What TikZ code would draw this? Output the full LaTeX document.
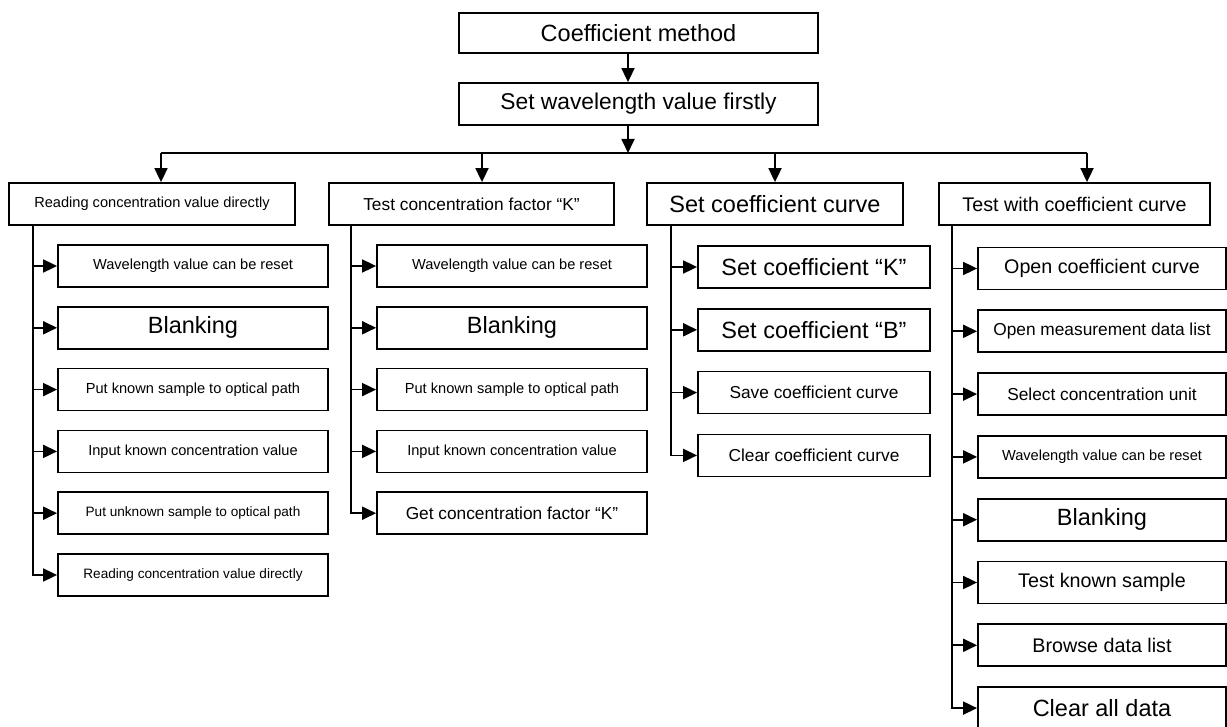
\documentclass[tikz,border=0pt]{standalone}
\usepackage{fontspec}
\setmainfont{Liberation Sans}
\usetikzlibrary{positioning,arrows.meta}

\begin{document}
\begin{tikzpicture}[x=1pt, y=-1pt, line width=1.8pt, >={Triangle[length=14pt,width=13pt]},
    box/.style={draw, inner sep=0pt, minimum height=42pt},
    fxl/.style={font=\fontsize{23.5}{26}\selectfont},
    fl/.style={font=\fontsize{19.7}{22}\selectfont},
    fm/.style={font=\fontsize{17.3}{20}\selectfont},
    fs/.style={font=\fontsize{14.6}{17}\selectfont},
    fxs/.style={font=\fontsize{13.6}{16}\selectfont}]
    \useasboundingbox (0,0) rectangle (1227,727);

    \node[box, fxl, minimum width=359pt, minimum height=40pt] (method) at (638.5,33) {Coefficient method};
    \node[box, fxl, minimum width=359pt, font=\fontsize{22.8}{25}\selectfont] (wave) at (638.5,104) {Set wavelength value firstly};

    \node[box, fs, minimum width=286pt] (read) at (152,204) {Reading concentration value directly};
    \node[box, fm, minimum width=285pt] (factor) at (471.5,204) {Test concentration factor “K”};
    \node[box, fxl, minimum width=256pt] (setcurve) at (775,204) {Set coefficient curve};
    \node[box, fl, minimum width=271pt] (testcurve) at (1074.5,204) {Test with coefficient curve};

    % reading concentration directly
    \node[box, fs, minimum width=270pt] (ra) at (193,266) {Wavelength value can be reset};
    \node[box, fxl, minimum width=270pt, below=18pt of ra] (rb) {Blanking};
    \node[box, fs, minimum width=270pt, below=18pt of rb] (rc) {Put known sample to optical path};
    \node[box, fs, minimum width=270pt, below=18pt of rc] (rd) {Input known concentration value};
    \node[box, fxs, minimum width=270pt, below=18pt of rd] (re) {Put unknown sample to optical path};
    \node[box, fxs, minimum width=270pt, below=18pt of re] (rf) {Reading concentration value directly};

    % concentration factor
    \node[box, fs, minimum width=270pt] (fa) at (512,266) {Wavelength value can be reset};
    \node[box, fxl, minimum width=270pt, below=18pt of fa] (fb) {Blanking};
    \node[box, fs, minimum width=270pt, below=18pt of fb] (fc) {Put known sample to optical path};
    \node[box, fs, minimum width=270pt, below=18pt of fc] (fd) {Input known concentration value};
    \node[box, fm, minimum width=270pt, below=18pt of fd] (fe) {Get concentration factor “K”};

    % set coefficient curve
    \node[box, fxl, minimum width=232pt] (sa) at (814,267) {Set coefficient “K”};
    \node[box, fxl, minimum width=232pt, below=19pt of sa] (sb) {Set coefficient “B”};
    \node[box, fm, minimum width=232pt, below=19pt of sb] (sc) {Save coefficient curve};
    \node[box, fm, minimum width=232pt, below=19pt of sc] (sd) {Clear coefficient curve};

    % test with coefficient curve
    \node[box, fl, minimum width=248pt] (ta) at (1102,268.5) {Open coefficient curve};
    \node[box, fm, minimum width=248pt, below=19pt of ta] (tb) {Open measurement data list};
    \node[box, fm, minimum width=248pt, below=19pt of tb] (tc) {Select concentration unit};
    \node[box, fs, minimum width=248pt, below=19pt of tc] (td) {Wavelength value can be reset};
    \node[box, fxl, minimum width=248pt, below=19pt of td] (te) {Blanking};
    \node[box, fl, minimum width=248pt, below=19pt of te] (tf) {Test known sample};
    \node[box, fl, minimum width=248pt, below=19pt of tf] (tg) {Browse data list};
    \node[box, fxl, minimum width=248pt, below=19pt of tg] (th) {Clear all data};

    \coordinate (split) at (628,153);
    \coordinate (b1) at (161,153);
    \coordinate (b2) at (482,153);
    \coordinate (b3) at (775,153);
    \coordinate (b4) at (1087,153);
    \draw[->] (method.south -| split) -- (wave.north -| split);
    \draw[->] (wave.south -| split) -- (split);
    \draw (b1) -- (b4);
    \draw[->] (b1) -- (b1 |- read.north);
    \draw[->] (b2) -- (b2 |- factor.north);
    \draw[->] (b3) -- (b3 |- setcurve.north);
    \draw[->] (b4) -- (b4 |- testcurve.north);

    \coordinate (t1) at ([xshift=25pt]read.south west);
    \coordinate (t2) at ([xshift=23pt]factor.south west);
    \coordinate (t3) at ([xshift=25pt]setcurve.south west);
    \coordinate (t4) at ([xshift=14pt]testcurve.south west);

    \draw[->] (t1) |- (rf.west);
    \draw[->] (ra.west -| t1) -- (ra.west);
    \draw[->] (rb.west -| t1) -- (rb.west);
    \draw[->] (rc.west -| t1) -- (rc.west);
    \draw[->] (rd.west -| t1) -- (rd.west);
    \draw[->] (re.west -| t1) -- (re.west);

    \draw[->] (t2) |- (fe.west);
    \draw[->] (fa.west -| t2) -- (fa.west);
    \draw[->] (fb.west -| t2) -- (fb.west);
    \draw[->] (fc.west -| t2) -- (fc.west);
    \draw[->] (fd.west -| t2) -- (fd.west);

    \draw[->] (t3) |- (sd.west);
    \draw[->] (sa.west -| t3) -- (sa.west);
    \draw[->] (sb.west -| t3) -- (sb.west);
    \draw[->] (sc.west -| t3) -- (sc.west);

    \draw[->] (t4) |- (th.west);
    \draw[->] (ta.west -| t4) -- (ta.west);
    \draw[->] (tb.west -| t4) -- (tb.west);
    \draw[->] (tc.west -| t4) -- (tc.west);
    \draw[->] (td.west -| t4) -- (td.west);
    \draw[->] (te.west -| t4) -- (te.west);
    \draw[->] (tf.west -| t4) -- (tf.west);
    \draw[->] (tg.west -| t4) -- (tg.west);
\end{tikzpicture}
\end{document}
